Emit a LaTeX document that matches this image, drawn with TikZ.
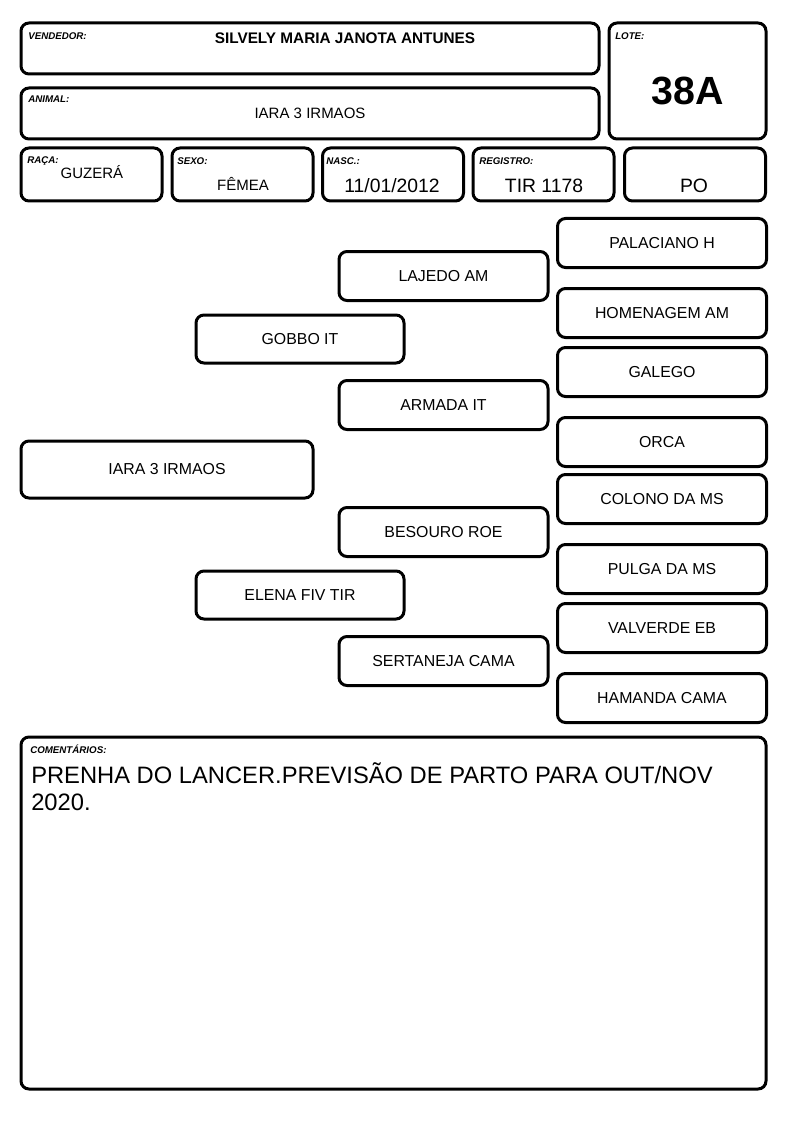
\documentclass[tikz,border=0pt]{standalone}
\usepackage{fontspec}
\setmainfont{Liberation Sans}
\usepackage{tikz}
\usetikzlibrary{positioning}

\tikzset{
caixa/.style={draw=black, line width=2.25pt, rounded corners=6pt, inner sep=0pt},
rotulo/.style={font=\fontsize{7.3}{8}\selectfont\bfseries\itshape, anchor=north west, inner sep=0pt},
valor/.style={font=\fontsize{11.25}{13}\selectfont, inner sep=0pt},
grande/.style={font=\fontsize{14.5}{16}\selectfont, inner sep=0pt},
nome/.style={caixa, minimum width=156.75pt, minimum height=36.75pt, font=\fontsize{11.9}{13}\selectfont},
}

\begin{document}
\begin{tikzpicture}[x=0.75pt,y=-0.75pt]
\useasboundingbox (0,0) rectangle (794,1123);

\node[caixa, minimum width=433.5pt, minimum height=38.25pt] (vendedor) at (310,48.5) {};
\node[rotulo] (vendedorrot) at (28,32) {VENDEDOR:};
\node[valor, font=\fontsize{11.5}{13}\selectfont\bfseries] (vendedorval) at (345,38) {SILVELY MARIA JANOTA ANTUNES};

\node[caixa, minimum width=117.75pt, minimum height=87pt] (lote) at (687.5,81) {};
\node[rotulo] (loterot) at (615,32) {LOTE:};
\node[inner sep=0pt, font=\fontsize{29.5}{32}\selectfont\bfseries] (loteval) at (688,91) {38A};

\node[caixa, minimum width=433.5pt, minimum height=38.25pt] (animal) at (310,113.5) {};
\node[rotulo] (animalrot) at (28,96) {ANIMAL:};
\node[valor] (animalval) at (310,113) {IARA 3 IRMAOS};

\node[caixa, minimum width=105.75pt, minimum height=39.75pt] (raca) at (91.5,174.5) {};
\node[rotulo] (racarot) at (27,156) {RAÇA:};
\node[valor] (racaval) at (92,172) {GUZERÁ};

\node[caixa, minimum width=105.75pt, minimum height=39.75pt] (sexo) at (242.5,174.5) {};
\node[rotulo] (sexorot) at (177,157) {SEXO:};
\node[valor] (sexoval) at (243,184) {FÊMEA};

\node[caixa, minimum width=105.75pt, minimum height=39.75pt] (nasc) at (393,174.5) {};
\node[rotulo] (nascrot) at (326,157) {NASC.:};
\node[grande] (nascval) at (392,186) {11/01/2012};

\node[caixa, minimum width=105.75pt, minimum height=39.75pt] (registro) at (543.5,174.5) {};
\node[rotulo] (registrorot) at (479,157) {REGISTRO:};
\node[grande] (registroval) at (544,186) {TIR 1178};

\node[caixa, minimum width=105.75pt, minimum height=39.75pt] (categoria) at (695,174.5) {};
\node[grande] (categoriaval) at (694,186) {PO};

\node[nome, minimum width=219pt, minimum height=42.75pt] (animalped) at (167,469.5) {IARA 3 IRMAOS};

\node[nome, minimum width=156pt, minimum height=36pt] (pai) at (300,339) {GOBBO IT};
\node[nome, minimum width=156pt, minimum height=36pt] (mae) at (300,595) {ELENA FIV TIR};

\node[nome] (avopp) at (443.5,276) {LAJEDO AM};
\node[nome] (avopm) at (443.5,405) {ARMADA IT};
\node[nome] (avomp) at (443.5,532) {BESOURO ROE};
\node[nome] (avomm) at (443.5,661) {SERTANEJA CAMA};

\node[nome] (bisa1) at (662,243) {PALACIANO H};
\node[nome] (bisa2) at (662,313) {HOMENAGEM AM};
\node[nome] (bisa3) at (662,372) {GALEGO};
\node[nome] (bisa4) at (662,442) {ORCA};
\node[nome] (bisa5) at (662,499) {COLONO DA MS};
\node[nome] (bisa6) at (662,569) {PULGA DA MS};
\node[nome] (bisa7) at (662,628) {VALVERDE EB};
\node[nome] (bisa8) at (662,698) {HAMANDA CAMA};

\node[caixa, minimum width=558.75pt, minimum height=264pt] (comentarios) at (393.5,913) {};
\node[rotulo] (comentariosrot) at (30,745) {COMENTÁRIOS:};
\node[inner sep=0pt, anchor=north west, align=left, font=\fontsize{17.8}{20.5}\selectfont] (comentariosval) at (31,762) {PRENHA DO LANCER.PREVISÃO DE PARTO PARA OUT/NOV\\2020.};
\end{tikzpicture}
\end{document}
